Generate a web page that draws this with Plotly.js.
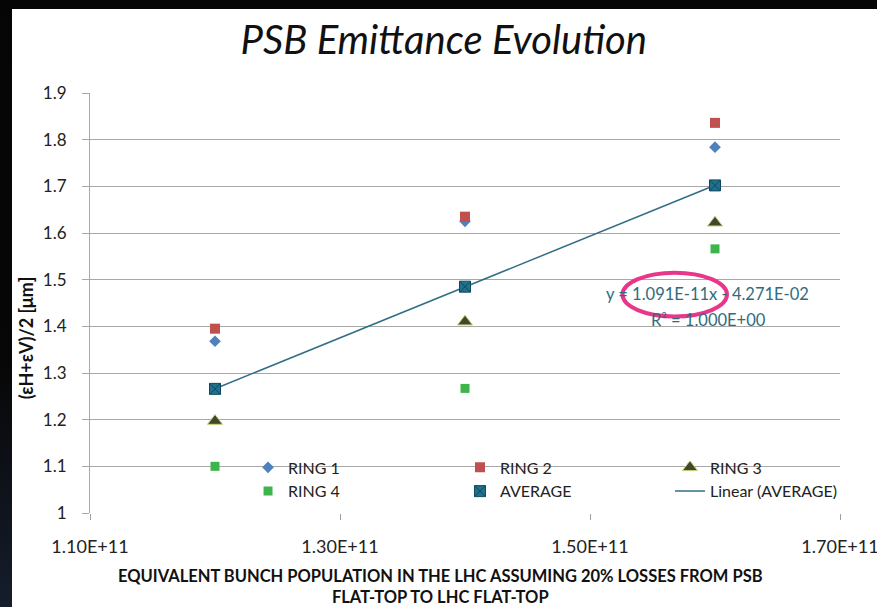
<!DOCTYPE html>
<html>
<head>
<meta charset="utf-8">
<script src="https://cdn.plot.ly/plotly-3.0.1.min.js"></script>
<style>
  html, body { margin: 0; padding: 0; width: 877px; height: 607px; overflow: hidden; background: #fff; }
  #chart { position: absolute; left: 0; top: 0; width: 877px; height: 607px; }
  #frameTop { position: absolute; left: 0; top: 0; width: 877px; height: 9px; background: #050505; }
  #frameLeft { position: absolute; left: 0; top: 0; width: 12px; height: 607px;
    background: linear-gradient(to bottom, #050505 0%, #070707 60%, #151d2c 100%); }
</style>
</head>
<body>
<div id="chart"></div>
<div id="frameTop"></div>
<div id="frameLeft"></div>
<script>
// Bunch population (x) and emittance values for each ring
const xVals   = [1.2e11, 1.4e11, 1.6e11];
const ring1   = [1.368, 1.625, 1.784];
const ring2   = [1.395, 1.635, 1.836];
const ring3   = [1.197, 1.410, 1.622];
const ring4   = [1.100, 1.267, 1.566];
const average = [1.266, 1.485, 1.702];

const xTickVals = [1.1e11, 1.3e11, 1.5e11, 1.7e11];
const xTickText = ['1.10E+11', '1.30E+11', '1.50E+11', '1.70E+11'];
const yTickVals = [1, 1.1, 1.2, 1.3, 1.4, 1.5, 1.6, 1.7, 1.8, 1.9];

const eqLine1 = 'y = 1.091E-11x - 4.271E-02';
const eqLine2 = 'R² = 1.000E+00';

// least-squares fit of the average series (trendline)
function fit(xs, ys) {
  const n = xs.length;
  const mx = xs.reduce((a, b) => a + b, 0) / n;
  const my = ys.reduce((a, b) => a + b, 0) / n;
  let sxy = 0, sxx = 0;
  for (let i = 0; i < n; i++) { sxy += (xs[i] - mx) * (ys[i] - my); sxx += (xs[i] - mx) ** 2; }
  const m = sxy / sxx;
  return { m: m, b: my - m * mx };
}
const f = fit(xVals, average);
const trendY = xVals.map(x => f.m * x + f.b);

const FONT = 'Lato, "Open Sans", sans-serif';

const data = [
  { x: xVals, y: trendY, name: 'Linear (AVERAGE)', mode: 'lines', type: 'scatter', legend: 'legend3', legendrank: 2,
    line: { color: '#2F6E85', width: 1.5 } },
  { x: xVals, y: ring1, name: 'RING 1', mode: 'markers', type: 'scatter', legend: 'legend',
    marker: { symbol: 'diamond', size: 9, color: '#4F81BD' } },
  { x: xVals, y: ring2, name: 'RING 2', mode: 'markers', type: 'scatter', legend: 'legend2',
    marker: { symbol: 'square', size: 10, color: '#C0504D' } },
  { x: xVals, y: ring3, name: 'RING 3', mode: 'markers', type: 'scatter', legend: 'legend3', legendrank: 1,
    marker: { symbol: 'triangle-up', size: 13, color: '#45452A', line: { color: '#BCD27A', width: 1 } } },
  { x: xVals, y: ring4, name: 'RING 4', mode: 'markers', type: 'scatter', legend: 'legend',
    marker: { symbol: 'square', size: 9, color: '#3DB54A' } },
  { x: xVals, y: average, name: 'AVERAGE', mode: 'markers', type: 'scatter', legend: 'legend2',
    marker: { symbol: 'square-x', size: 11, color: '#21708C', line: { color: '#0E4A5E', width: 1 } } }
];

function legendAt(x) {
  return { orientation: 'v', x: x, xanchor: 'left', y: 0.149, yanchor: 'top',
    bgcolor: 'rgba(0,0,0,0)', traceorder: 'normal',
    font: { family: FONT, size: 16, color: '#222' } };
}

const layout = {
  width: 877, height: 607,
  paper_bgcolor: '#ffffff', plot_bgcolor: '#ffffff',
  margin: { l: 90, r: 37, t: 93, b: 94 },
  font: { family: FONT, color: '#222', size: 15 },
  title: { text: '<i>PSB Emittance Evolution</i>', x: 0.506, xanchor: 'center', y: 0.934, yanchor: 'middle',
    font: { family: FONT, size: 40, color: '#111' } },
  showlegend: true,
  legend: legendAt(0.2107),
  legend2: legendAt(0.4933),
  legend3: legendAt(0.7733),
  xaxis: {
    range: [1.1e11, 1.7e11], tickvals: xTickVals, ticktext: xTickText,
    showgrid: false, zeroline: false, showline: false,
    ticks: 'outside', ticklen: 6, tickcolor: '#a0a0a0', tickwidth: 1,
    ticklabelstandoff: 11, ticklabeloverflow: 'allow',
    tickfont: { family: FONT, size: 18, color: '#222' }
  },
  yaxis: {
    range: [1, 1.9], tickvals: yTickVals,
    showgrid: true, gridcolor: '#a8a8a8', gridwidth: 1, zeroline: false,
    showline: true, linecolor: '#a8a8a8', linewidth: 1,
    ticks: 'outside', ticklen: 7, tickcolor: '#a8a8a8', tickwidth: 1,
    ticklabelstandoff: 12,
    tickfont: { family: FONT, size: 17, color: '#222' }
  },
  annotations: [
    { xref: 'paper', yref: 'paper', x: -0.0853, y: 0.416, text: '<b>(εH+εV)/2 [μm]</b>', textangle: -90,
      showarrow: false, xanchor: 'center', yanchor: 'middle', font: { family: FONT, size: 18, color: '#111' } },
    { xref: 'paper', yref: 'paper', x: 0.4667, y: -0.176,
      text: '<b>EQUIVALENT BUNCH POPULATION IN THE LHC ASSUMING 20% LOSSES FROM PSB<br>FLAT-TOP TO LHC FLAT-TOP</b>',
      showarrow: false, xanchor: 'center', yanchor: 'middle', align: 'center',
      font: { family: FONT, size: 16.5, color: '#111' } },
    { xref: 'x', yref: 'y', x: 1.5936e11, y: 1.470, text: eqLine1, showarrow: false,
      xanchor: 'center', yanchor: 'middle', font: { family: FONT, size: 16.5, color: '#2F6C80' } },
    { xref: 'x', yref: 'y', x: 1.5944e11, y: 1.4145, text: eqLine2, showarrow: false,
      xanchor: 'center', yanchor: 'middle', font: { family: FONT, size: 16.5, color: '#2F6C80' } }
  ],
  shapes: [
    { type: 'circle', xref: 'x', yref: 'y', x0: 1.526e11, x1: 1.6096e11, y0: 1.421, y1: 1.515,
      line: { color: '#E8368B', width: 4 }, fillcolor: 'rgba(0,0,0,0)', layer: 'above' }
  ]
};

Plotly.newPlot('chart', data, layout, { displayModeBar: false, staticPlot: true });
</script>
</body>
</html>
